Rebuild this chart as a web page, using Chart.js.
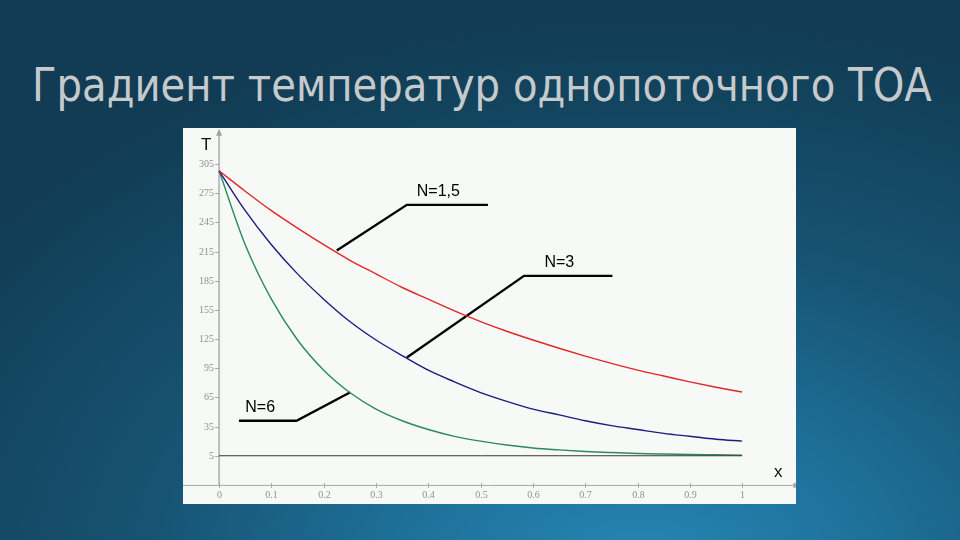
<!DOCTYPE html>
<html lang="ru">
<head>
<meta charset="UTF-8">
<script src="https://cdn.jsdelivr.net/npm/chart.js@4.4.0/dist/chart.umd.min.js"></script>
<title>Градиент температур</title>
<style>
  html, body { margin: 0; padding: 0; }
  body {
    width: 960px; height: 540px; overflow: hidden; position: relative;
    background: radial-gradient(ellipse 820px 560px at 640px 580px, #2688b5 0%, #1e7099 30%, #175473 60%, #113c54 100%);
  }
  h1 {
    position: absolute; left: 32px; top: 58px; margin: 0; white-space: nowrap;
    font-family: "DejaVu Sans", sans-serif; font-weight: normal;
    font-size: 46px; color: #c6cacd; transform-origin: 0 0;
  }
  #panel {
    position: absolute; left: 183px; top: 128px; width: 613px; height: 376px;
    background: #f7f9f7;
  }
</style>
</head>
<body>
<h1 id="title">Градиент температур однопоточного ТОА</h1>
<div id="panel"><canvas id="grad" width="613" height="376"></canvas></div>

<script>
// x positions and readings of T for each curve
const xs = [0, 0.05, 0.1, 0.15, 0.2, 0.25, 0.3, 0.35, 0.4, 0.45, 0.5,
            0.55, 0.6, 0.65, 0.7, 0.75, 0.8, 0.85, 0.9, 0.95, 1];
const tN15 = [298, 277, 257, 239, 222, 206, 192, 178, 166, 154, 143,
              133, 124, 115.5, 107.5, 100, 93, 87, 81, 75.5, 70.5];
const tN3 = [298, 257, 222, 192, 166, 143, 124, 108, 93, 81, 70,
             61, 53, 47, 41, 36, 32, 28, 25, 22, 20];
const tN6 = [298, 222, 166, 124, 93, 70, 53, 41, 32, 25, 20,
             16, 13, 11, 9.4, 8.3, 7.4, 6.8, 6.3, 6, 5.7];
const baseX = [0, 1];
const baseT = [5, 5];

const yTicks = [5, 35, 65, 95, 125, 155, 185, 215, 245, 275, 305];
const xTicks = [0, 0.1, 0.2, 0.3, 0.4, 0.5, 0.6, 0.7, 0.8, 0.9, 1];

// leader lines for the curve labels
const lead15 = [[0.225, 216], [0.359, 263], [0.514, 263]];
const lead3 = [[0.359, 106], [0.583, 190], [0.752, 190]];
const lead6 = [[0.038, 41], [0.148, 41], [0.25, 70]];
const labels = [
  { text: 'N=1,5', x: 0.378, y: 272 },
  { text: 'N=3', x: 0.622, y: 199 },
  { text: 'N=6', x: 0.05, y: 50 }
];

// squeeze the title to the width it has on the slide
const title = document.getElementById('title');
title.style.transform = 'scaleX(' + (900 / title.offsetWidth) + ')';

function pts(xa, ya) { return xa.map((x, i) => ({ x: x, y: ya[i] })); }
function lead(arr) { return arr.map(p => ({ x: p[0], y: p[1] })); }

function curve(data, color) {
  return { data: data, borderColor: color, borderWidth: 1.4, pointRadius: 0,
           cubicInterpolationMode: 'monotone', fill: false };
}
function leader(data) {
  return { data: data, borderColor: '#000', borderWidth: 2.4, pointRadius: 0,
           tension: 0, fill: false };
}

const axesPlugin = {
  id: 'axesPlugin',
  beforeDatasetsDraw(chart) {
    const c = chart.ctx, xs_ = chart.scales.x, ys_ = chart.scales.y;
    const x0 = xs_.getPixelForValue(0), yAx = ys_.getPixelForValue(-25);
    c.save();
    // x axis
    c.strokeStyle = '#a8a8a8'; c.lineWidth = 1;
    c.beginPath(); c.moveTo(0, yAx + 0.5); c.lineTo(xs_.getPixelForValue(1.1), yAx + 0.5); c.stroke();
    const xe = xs_.getPixelForValue(1.1);
    c.fillStyle = '#a8a8a8';
    c.beginPath(); c.moveTo(xe + 6, yAx + 0.5); c.lineTo(xe - 1, yAx - 2.5); c.lineTo(xe - 1, yAx + 3.5); c.fill();
    // y axis
    c.strokeStyle = '#bdbdbd'; c.lineWidth = 2;
    const yt = ys_.getPixelForValue(335);
    c.beginPath(); c.moveTo(x0, yAx); c.lineTo(x0, yt); c.stroke();
    c.fillStyle = '#a0a0a0';
    c.beginPath(); c.moveTo(x0, yt - 6); c.lineTo(x0 - 3, yt + 1); c.lineTo(x0 + 3, yt + 1); c.fill();
    // ticks
    c.strokeStyle = '#aaa'; c.lineWidth = 1;
    c.font = '10px "Liberation Serif", serif'; c.fillStyle = '#909090';
    c.textAlign = 'right'; c.textBaseline = 'middle';
    yTicks.forEach(v => {
      const p = Math.round(ys_.getPixelForValue(v)) + 0.5;
      c.beginPath(); c.moveTo(x0 - 4, p); c.lineTo(x0, p); c.stroke();
      c.fillText(String(v), x0 - 5, p);
    });
    c.textAlign = 'center'; c.textBaseline = 'top';
    xTicks.forEach(v => {
      const p = Math.round(xs_.getPixelForValue(v)) + 0.5;
      c.beginPath(); c.moveTo(p, yAx - 2); c.lineTo(p, yAx + 3); c.stroke();
      c.fillText(String(v), p, yAx + 5);
    });
    // axis names
    c.fillStyle = '#111'; c.font = '17px "Liberation Sans", sans-serif';
    c.textAlign = 'left'; c.textBaseline = 'alphabetic';
    c.fillText('T', x0 - 18, ys_.getPixelForValue(319));
    c.fillText('x', xs_.getPixelForValue(1.061), yAx - 8);
    c.restore();
  },
  afterDatasetsDraw(chart) {
    const c = chart.ctx, xs_ = chart.scales.x, ys_ = chart.scales.y;
    c.save();
    c.fillStyle = '#000'; c.font = '16px "Liberation Sans", sans-serif';
    c.textAlign = 'left'; c.textBaseline = 'alphabetic';
    labels.forEach(l => c.fillText(l.text, xs_.getPixelForValue(l.x), ys_.getPixelForValue(l.y)));
    c.restore();
  }
};

new Chart(document.getElementById('grad'), {
  type: 'line',
  data: {
    datasets: [
      { data: pts(baseX, baseT), borderColor: '#333', borderWidth: 1, pointRadius: 0, fill: false },
      curve(pts(xs, tN15), '#e02828'),
      curve(pts(xs, tN3), '#1c1c82'),
      curve(pts(xs, tN6), '#2a8a5c'),
      leader(lead(lead15)),
      leader(lead(lead3)),
      leader(lead(lead6))
    ]
  },
  options: {
    responsive: false,
    animation: false,
    devicePixelRatio: 1,
    layout: { padding: 0 },
    plugins: { legend: { display: false }, tooltip: { enabled: false } },
    scales: {
      x: { type: 'linear', min: -0.069, max: 1.103, display: false },
      y: { type: 'linear', min: -44.6, max: 342, display: false }
    }
  },
  plugins: [axesPlugin]
});
</script>
</body>
</html>
